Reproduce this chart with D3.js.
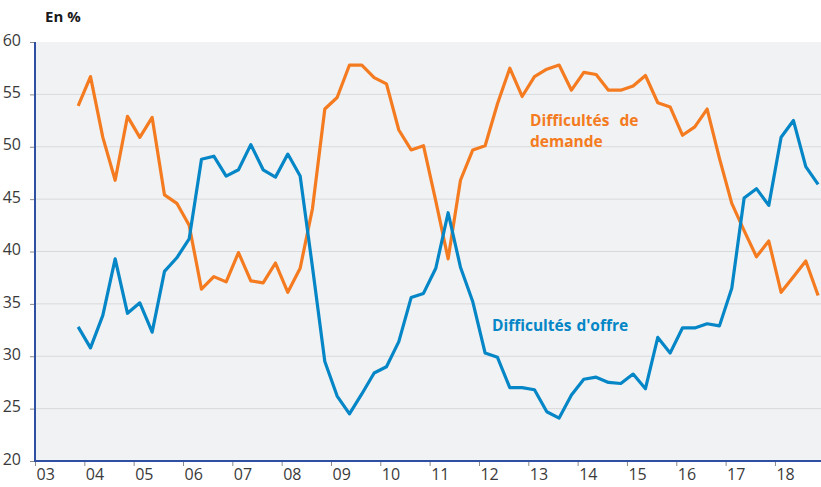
<!DOCTYPE html>
<html>
<head>
<meta charset="utf-8">
<script src="https://cdn.jsdelivr.net/npm/d3@7"></script>
<style>
  body { margin: 0; background: #ffffff; }
  svg { display: block; font-family: "Open Sans", "Noto Sans", sans-serif; }
</style>
</head>
<body>
<svg id="chart" width="821" height="487"></svg>
<script>
// -------- DATA --------
// quarterly points, first one is 2003 Q4, last one 2018 Q4
const firstYear = 2003;
const firstQuarter = 4;

// Difficultés de demande (en %)
const demande = [
  53.9, 56.7, 50.9, 46.8, 52.9, 50.9, 52.8, 45.4, 44.6, 42.5,
  36.4, 37.6, 37.1, 39.9, 37.2, 37.0, 38.9, 36.1, 38.4, 44.1,
  53.6, 54.7, 57.8, 57.8, 56.6, 56.0, 51.6, 49.7, 50.1, 44.8,
  39.3, 46.8, 49.7, 50.1, 54.1, 57.5, 54.8, 56.7, 57.4, 57.8,
  55.4, 57.1, 56.9, 55.4, 55.4, 55.8, 56.8, 54.2, 53.8, 51.1,
  51.9, 53.6, 48.9, 44.6, 42.0, 39.5, 41.0, 36.1, 37.6, 39.1,
  35.8
];

// Difficultés d'offre (en %)
const offre = [
  32.8, 30.8, 33.9, 39.3, 34.1, 35.1, 32.3, 38.1, 39.4, 41.2,
  48.8, 49.1, 47.2, 47.8, 50.2, 47.8, 47.1, 49.3, 47.2, 38.5,
  29.5, 26.2, 24.5, 26.4, 28.4, 29.0, 31.4, 35.6, 36.0, 38.4,
  43.7, 38.5, 35.2, 30.3, 29.9, 27.0, 27.0, 26.8, 24.7, 24.1,
  26.3, 27.8, 28.0, 27.5, 27.4, 28.3, 26.9, 31.8, 30.3, 32.7,
  32.7, 33.1, 32.9, 36.5, 45.1, 46.0, 44.4, 50.9, 52.5, 48.1,
  46.4
];

const yearTicks = [2003, 2004, 2005, 2006, 2007, 2008, 2009, 2010, 2011,
  2012, 2013, 2014, 2015, 2016, 2017, 2018];
const yearLabels = ["03", "04", "05", "06", "07", "08", "09", "10", "11",
  "12", "13", "14", "15", "16", "17", "18"];
const yTicks = [20, 25, 30, 35, 40, 45, 50, 55, 60];

// quarter positions (middle of each quarter, in decimal years)
const quarters = demande.map((d, i) => {
  const q = firstQuarter - 1 + i;
  return firstYear + Math.floor(q / 4) + ((q % 4) + 0.5) / 4;
});

// -------- LAYOUT --------
const plotLeft = 35;
const plotTop = 42;
const plotBottom = 461;
const plotRight = 821;

const orange = "#f47b20";
const blue = "#0586c6";
const axisBlue = "#2f4fa2";

const svg = d3.select("#chart");

const x = d3.scaleLinear()
  .domain([2003, 2019])
  .range([plotLeft, plotLeft + 16 * 49.33]);

const y = d3.scaleLinear()
  .domain([20, 60])
  .range([plotBottom, plotTop]);

// plot background
svg.append("rect")
  .attr("x", plotLeft)
  .attr("y", plotTop)
  .attr("width", plotRight - plotLeft)
  .attr("height", plotBottom - plotTop)
  .attr("fill", "#f1f2f4");

// gridlines
svg.append("g")
  .selectAll("line")
  .data(yTicks.filter(t => t > 20 && t < 60))
  .enter()
  .append("line")
  .attr("x1", plotLeft)
  .attr("x2", plotRight)
  .attr("y1", d => y(d))
  .attr("y2", d => y(d))
  .attr("stroke", "#d8d9dc")
  .attr("stroke-width", 1);

// -------- AXES --------
const yAxis = svg.append("g")
  .attr("transform", `translate(${plotLeft},0)`)
  .call(d3.axisLeft(y).tickValues(yTicks).tickSize(5).tickPadding(9));

yAxis.select(".domain").remove();
yAxis.selectAll(".tick line").attr("stroke", "#8a8a8a");
yAxis.selectAll(".tick text")
  .attr("fill", "#3a3a3a")
  .attr("font-size", 16)
  .attr("font-family", "Open Sans, Noto Sans, sans-serif")
  .attr("dy", "0.2em");

const xAxis = svg.append("g")
  .attr("transform", `translate(0,${plotBottom})`)
  .call(d3.axisBottom(x).tickValues(yearTicks).tickSize(5)
    .tickFormat((d, i) => yearLabels[i]));

xAxis.select(".domain").remove();
xAxis.selectAll(".tick line").attr("stroke", "#8a8a8a");
xAxis.selectAll(".tick text")
  .attr("fill", "#3a3a3a")
  .attr("font-size", 16)
  .attr("font-family", "Open Sans, Noto Sans, sans-serif")
  .attr("text-anchor", "start")
  .attr("x", 1)
  .attr("y", 8);

// axis lines
svg.append("line")
  .attr("x1", plotLeft).attr("x2", plotLeft)
  .attr("y1", plotTop).attr("y2", plotBottom + 1)
  .attr("stroke", axisBlue)
  .attr("stroke-width", 2);

svg.append("line")
  .attr("x1", plotLeft - 1).attr("x2", plotRight)
  .attr("y1", plotBottom).attr("y2", plotBottom)
  .attr("stroke", axisBlue)
  .attr("stroke-width", 2);

// -------- LINES --------
const line = d3.line()
  .x((d, i) => x(quarters[i]))
  .y(d => y(d));

svg.append("path")
  .datum(demande)
  .attr("d", line)
  .attr("fill", "none")
  .attr("stroke", orange)
  .attr("stroke-width", 3.2)
  .attr("stroke-linejoin", "round");

svg.append("path")
  .datum(offre)
  .attr("d", line)
  .attr("fill", "none")
  .attr("stroke", blue)
  .attr("stroke-width", 3.2)
  .attr("stroke-linejoin", "round");

// -------- LABELS --------
svg.append("text")
  .attr("x", 45)
  .attr("y", 22)
  .attr("font-size", 15)
  .attr("font-weight", "bold")
  .attr("fill", "#1a1a1a")
  .text("En %");

const demLabel = svg.append("text")
  .attr("font-size", 15.5)
  .attr("font-weight", "bold")
  .attr("fill", orange)
  .attr("word-spacing", 6);

demLabel.append("tspan").attr("x", 530).attr("y", 126).text("Difficultés de");
demLabel.append("tspan").attr("x", 530).attr("y", 147).text("demande");

svg.append("text")
  .attr("x", 492)
  .attr("y", 331)
  .attr("font-size", 15.5)
  .attr("font-weight", "bold")
  .attr("fill", blue)
  .attr("word-spacing", 1)
  .text("Difficultés d'offre");
</script>
</body>
</html>
